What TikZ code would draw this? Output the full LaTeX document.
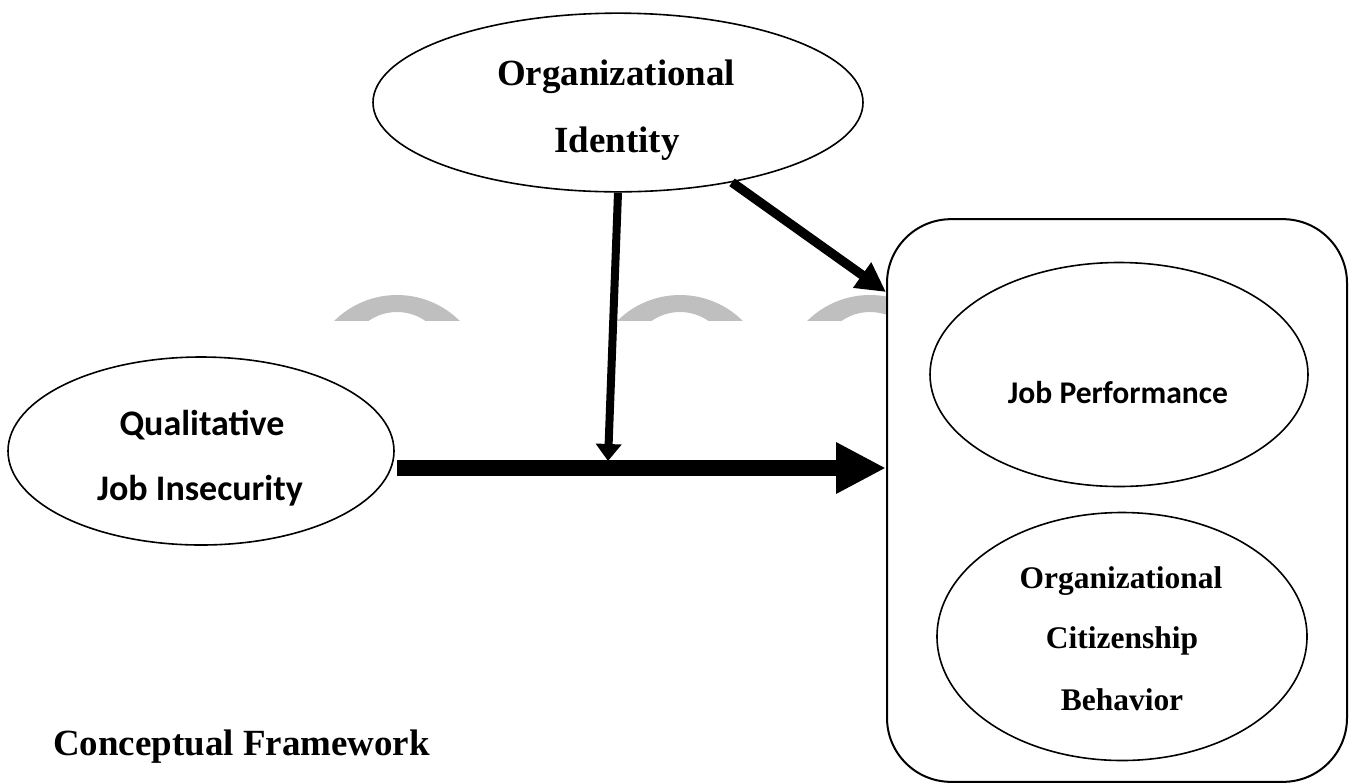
\documentclass[tikz,border=0pt]{standalone}
\usepackage{fontspec}
\setmainfont{Liberation Serif}
\newfontfamily\calibri{Carlito}
\usetikzlibrary{arrows.meta,shapes.geometric}

\begin{document}
\begin{tikzpicture}[x=0.75pt,y=-0.75pt,>=Latex,
    construct/.style={draw,ellipse,line width=1.2pt,inner sep=0pt},
    bigserif/.style={inner sep=0pt,anchor=base,font=\fontsize{27.7pt}{30pt}\selectfont\bfseries},
    smallserif/.style={inner sep=0pt,anchor=base,font=\fontsize{23.6pt}{26pt}\selectfont\bfseries},
    bigsans/.style={inner sep=0pt,anchor=base,font=\calibri\fontsize{27pt}{30pt}\selectfont\bfseries},
    smallsans/.style={inner sep=0pt,anchor=base,font=\calibri\fontsize{23.7pt}{26pt}\selectfont\bfseries}]
  \useasboundingbox (0,0) rectangle (1349,783);

  % faded letters behind the arrows
  \begin{scope}
    \clip (0,295) rectangle (887,320);
    \foreach \cx in {397,680,870}
      \fill[black!25,even odd rule] (\cx,384) circle (89) (\cx,362) circle (50);
  \end{scope}

  % constructs
  \node[construct,minimum width=367.5pt,minimum height=134pt] (oi) at (618,102.5) {};
  \node[construct,minimum width=289.5pt,minimum height=141pt] (qji) at (201,451) {};
  \node[draw,line width=1.5pt,rounded corners=48pt,minimum width=345pt,minimum height=422pt] (outcomes) at (1117,500.5) {};
  \node[construct,minimum width=283.5pt,minimum height=168pt] (jp) at (1119,374.5) {};
  \node[construct,minimum width=277.5pt,minimum height=186pt] (ocb) at (1122,636.5) {};

  \node[bigserif] (oiA) at (616,85) {Organizational};
  \node[bigserif] (oiB) at (617,152) {Identity};
  \node[bigsans] (qjiA) at (202,435) {Qualitative};
  \node[bigsans] (qjiB) at (200,500) {Job Insecurity};
  \node[smallsans] (jpT) at (1118,403) {Job Performance};
  \node[smallserif] (ocbA) at (1121,588) {Organizational};
  \node[smallserif] (ocbB) at (1122,648) {Citizenship};
  \node[smallserif] (ocbC) at (1122,710) {Behavior};
  \node[bigserif,anchor=base west] (title) at (53,755) {Conceptual Framework};

  % paths
  \coordinate (qjiOut) at (397,468);
  \coordinate (mainIn) at (outcomes.west |- qjiOut);
  \coordinate (modIn) at (608,461);
  \coordinate (diagIn) at (886,292);

  \draw[line width=12pt,-{Triangle[length=37.5pt,width=36pt]}] (qjiOut) -- (mainIn);
  \draw[line width=6pt,-{Triangle[length=12.75pt,width=18.75pt]}] (oi.south) -- (modIn);
  \draw[line width=7pt,-{Triangle[length=22pt,width=22pt]}] (oi.-35) -- (diagIn);
\end{tikzpicture}
\end{document}
